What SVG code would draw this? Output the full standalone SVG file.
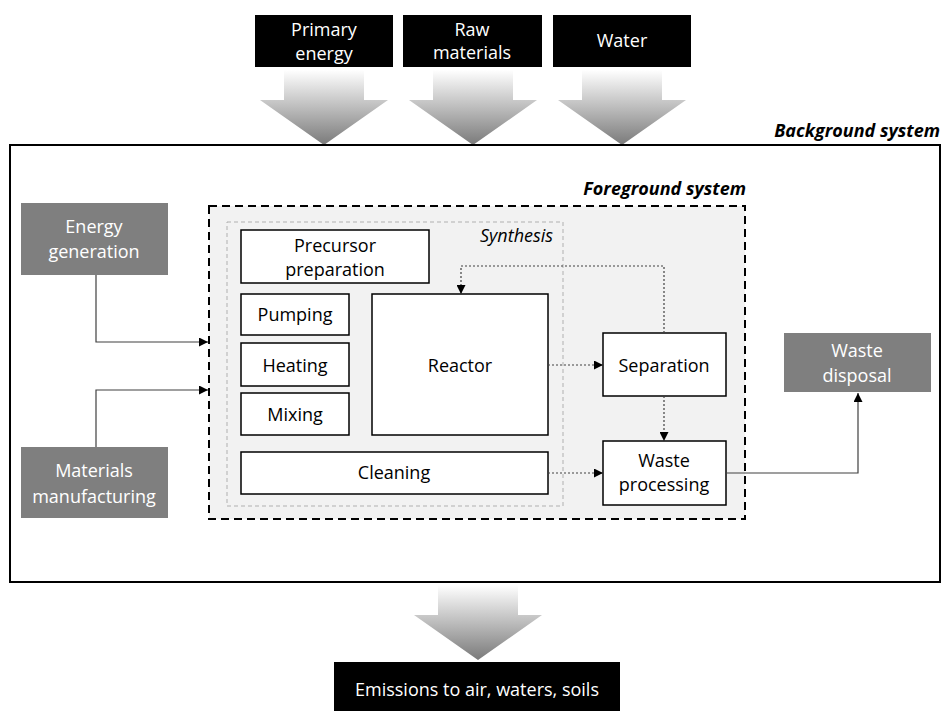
<svg xmlns="http://www.w3.org/2000/svg" width="942" height="711" viewBox="0 0 942 711">
<defs>
<linearGradient id="g" x1="0" y1="0" x2="0" y2="1">
<stop offset="0" stop-color="#ffffff"/>
<stop offset="1" stop-color="#7a7a7a"/>
</linearGradient>
<path id="fat" d="M-40,0 H40 V30 H64 L0,75 L-64,30 H-40 Z" fill="url(#g)"/>
<marker id="ah" viewBox="0 0 10 10" refX="10" refY="5" markerWidth="9" markerHeight="9" markerUnits="userSpaceOnUse" orient="auto">
<path d="M0,0 L10,5 L0,10 Z" fill="#000"/>
</marker>
</defs>
<style>
text{font-family:"Open Sans","Noto Sans","Liberation Sans",sans-serif;font-size:18px;text-anchor:middle;fill:#000}
.w{fill:#fff}
.bi{font-weight:bold;font-style:italic;text-anchor:end}
.it{font-style:italic;text-anchor:start}
.blk{fill:#000}
.gry{fill:#7f7f7f}
.box{fill:#fff;stroke:#000;stroke-width:1.5}
.solid{fill:none;stroke:#404040;stroke-width:1.2}
.dot{fill:none;stroke:#404040;stroke-width:1.2;stroke-dasharray:2,2}
</style>
<rect width="942" height="711" fill="#fff"/>

<g id="inflow-arrows">
<use href="#fat" x="324" y="70"/>
<use href="#fat" x="473" y="70"/>
<use href="#fat" x="622" y="70"/>
<use href="#fat" x="478" y="585"/>
</g>

<g id="primary-energy"><rect class="blk" x="255" y="15" width="138" height="52"/><text class="w" x="324" y="36">Primary</text><text class="w" x="324" y="60">energy</text></g>
<g id="raw-materials"><rect class="blk" x="403" y="15" width="139" height="52"/><text class="w" x="472" y="36">Raw</text><text class="w" x="472" y="59">materials</text></g>
<g id="water"><rect class="blk" x="553" y="15" width="138" height="52"/><text class="w" x="622" y="47">Water</text></g>

<g id="background-system">
<rect x="10" y="145" width="930" height="437" fill="none" stroke="#000" stroke-width="2"/>
<text class="bi" x="940" y="137">Background system</text>
</g>

<g id="foreground-system">
<rect x="209" y="206" width="536" height="313" fill="#f2f2f2" stroke="#000" stroke-width="2" stroke-dasharray="8,5"/>
<text class="bi" x="746" y="195">Foreground system</text>
</g>

<g id="synthesis">
<rect x="227" y="222" width="336" height="284" fill="none" stroke="#b0b0b0" stroke-width="1" stroke-dasharray="4,3"/>
<text class="it" x="480" y="242">Synthesis</text>
</g>

<g id="precursor-preparation"><rect class="box" x="241" y="230" width="188" height="53"/><text x="335" y="252">Precursor</text><text x="335" y="276">preparation</text></g>
<g id="pumping"><rect class="box" x="241" y="294" width="108" height="41"/><text x="295" y="321">Pumping</text></g>
<g id="heating"><rect class="box" x="241" y="343" width="108" height="43"/><text x="295" y="372">Heating</text></g>
<g id="mixing"><rect class="box" x="241" y="393" width="108" height="42"/><text x="295" y="421">Mixing</text></g>
<g id="reactor"><rect class="box" x="372" y="294" width="176" height="141"/><text x="460" y="372">Reactor</text></g>
<g id="cleaning"><rect class="box" x="241" y="452" width="307" height="42"/><text x="394" y="479">Cleaning</text></g>
<g id="separation"><rect class="box" x="603" y="333" width="123" height="63"/><text x="664" y="372">Separation</text></g>
<g id="waste-processing"><rect class="box" x="603" y="441" width="123" height="64"/><text x="664" y="467">Waste</text><text x="664" y="491">processing</text></g>

<g id="energy-generation"><rect class="gry" x="21" y="203" width="147" height="72"/><text class="w" x="94" y="233">Energy</text><text class="w" x="94" y="258">generation</text></g>
<g id="materials-manufacturing"><rect class="gry" x="21" y="447" width="147" height="71"/><text class="w" x="94" y="477">Materials</text><text class="w" x="94" y="503">manufacturing</text></g>
<g id="waste-disposal"><rect class="gry" x="784" y="333" width="147" height="59"/><text class="w" x="857" y="357">Waste</text><text class="w" x="857" y="382">disposal</text></g>

<g id="emissions"><rect class="blk" x="334" y="662" width="286" height="49"/><text class="w" x="477" y="696">Emissions to air, waters, soils</text></g>

<g id="connectors">
<path class="solid" d="M96,275 V342 H208" marker-end="url(#ah)"/>
<path class="solid" d="M96,447 V390 H208" marker-end="url(#ah)"/>
<path class="solid" d="M726,473 H858 V393" marker-end="url(#ah)"/>
<path class="dot" d="M548,365 H603" marker-end="url(#ah)"/>
<path class="dot" d="M548,473 H603" marker-end="url(#ah)"/>
<path class="dot" d="M664,396 V441" marker-end="url(#ah)"/>
<path class="dot" d="M664,333 V266 H461 V294" marker-end="url(#ah)"/>
</g>
</svg>
